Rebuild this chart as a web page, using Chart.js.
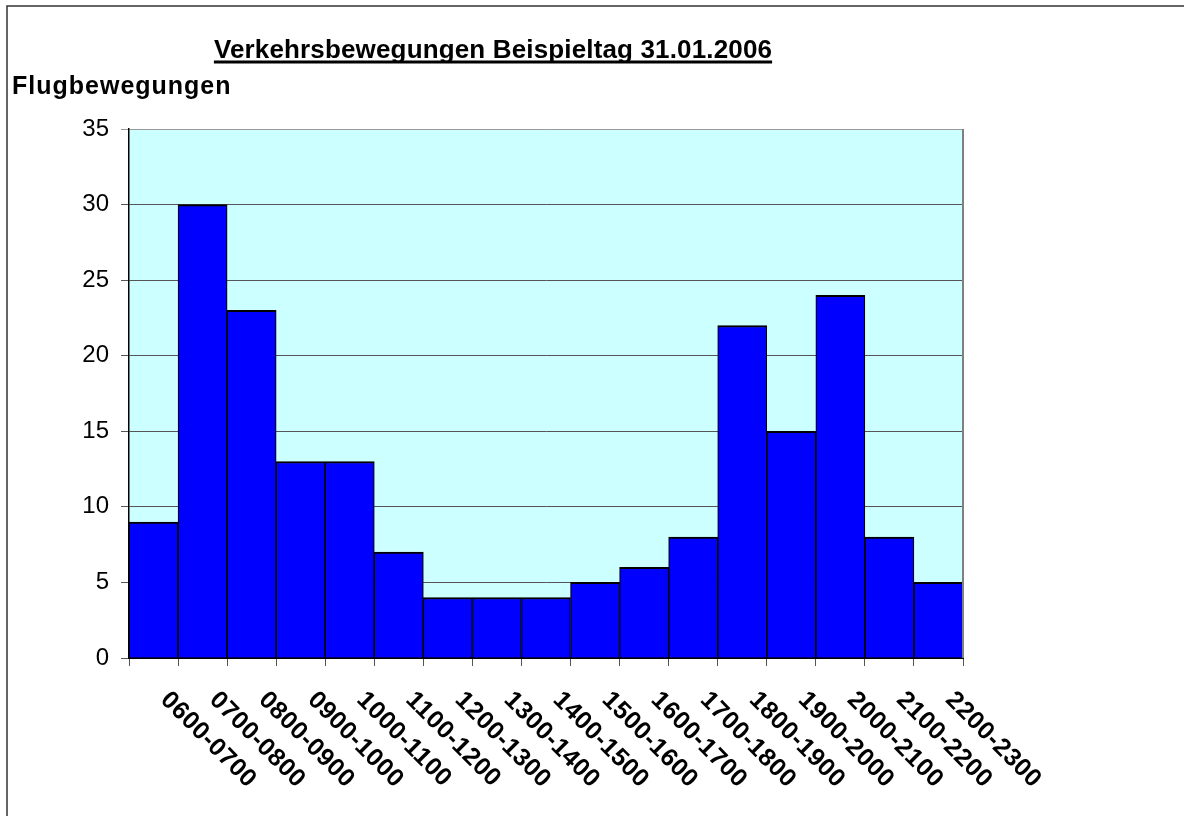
<!DOCTYPE html>
<html lang="de">
  <head>
    <meta charset="UTF-8" />
    <title>Verkehrsbewegungen Beispieltag 31.01.2006</title>
    <script src="https://cdn.jsdelivr.net/npm/chart.js"></script>
    <style>
      html, body { margin: 0; padding: 0; background: #fff; }
      canvas { display: block; }
    </style>
  </head>
  <body>
    <canvas id="chart" width="1184" height="816"></canvas>
    <script>
      const chartTitle = "Verkehrsbewegungen Beispieltag 31.01.2006";
      const axisTitle = "Flugbewegungen";
      const timeSlots = [
        "0600-0700", "0700-0800", "0800-0900", "0900-1000", "1000-1100", "1100-1200",
        "1200-1300", "1300-1400", "1400-1500", "1500-1600", "1600-1700", "1700-1800",
        "1800-1900", "1900-2000", "2000-2100", "2100-2200", "2200-2300"
      ];
      const movements = [9, 30, 23, 13, 13, 7, 4, 4, 4, 5, 6, 8, 22, 15, 24, 8, 5];
      const yMin = 0;
      const yMax = 35;
      const yStep = 5;

      const FONT = "'Liberation Sans', Arial, sans-serif";

      // Hintergrund, Rahmen, Titel und gedrehte Kategorienbeschriftung
      const decor = {
        id: "decor",
        beforeDraw(chart) {
          const { ctx, chartArea: a } = chart;
          ctx.save();
          ctx.fillStyle = "#ffffff";
          ctx.fillRect(0, 0, chart.width, chart.height);
          ctx.fillStyle = "#ccffff";
          ctx.fillRect(a.left, a.top, a.right - a.left, a.bottom - a.top);
          ctx.strokeStyle = "#333333";
          ctx.lineWidth = 1.5;
          ctx.strokeRect(7, 6, chart.width + 20, chart.height + 20);
          ctx.restore();
        },
        afterDraw(chart) {
          const { ctx, chartArea: a } = chart;
          const x = chart.scales.x;
          ctx.save();

          // rechter Rand der Zeichenfläche
          ctx.strokeStyle = "#808080";
          ctx.lineWidth = 2;
          ctx.beginPath();
          ctx.moveTo(a.right, a.top);
          ctx.lineTo(a.right, a.bottom);
          ctx.stroke();

          ctx.fillStyle = "#000";
          ctx.textAlign = "left";
          ctx.textBaseline = "alphabetic";

          // Titel, unterstrichen
          ctx.font = "bold 26px " + FONT;
          ctx.letterSpacing = "0.15px";
          const tw = ctx.measureText(chartTitle).width;
          const tx = 493 - tw / 2;
          ctx.fillText(chartTitle, tx, 58);
          ctx.fillRect(tx, 60.5, tw, 3);

          // Achsentitel
          ctx.font = "bold 25px " + FONT;
          ctx.letterSpacing = "1px";
          ctx.fillText(axisTitle, 12, 94);

          // Kategorien, 45 Grad gedreht
          ctx.font = "bold 25px " + FONT;
          ctx.letterSpacing = "0.5px";
          timeSlots.forEach((label, i) => {
            const px = x.getPixelForValue(i);
            ctx.save();
            ctx.translate(px + 6, a.bottom + 43);
            ctx.rotate(Math.PI / 4);
            ctx.fillText(label, 0, 0);
            ctx.restore();
          });
          ctx.restore();
        }
      };

      new Chart(document.getElementById("chart"), {
        type: "bar",
        data: {
          labels: timeSlots,
          datasets: [
            {
              label: axisTitle,
              data: movements,
              backgroundColor: "#0000ff",
              borderColor: "#000000",
              borderWidth: { top: 2, left: 1.2, right: 1.2, bottom: 0 },
              borderSkipped: false,
              categoryPercentage: 1,
              barPercentage: 1
            }
          ]
        },
        options: {
          responsive: false,
          animation: false,
          layout: { padding: { top: 129, right: 221, bottom: 0, left: 0 } },
          plugins: {
            legend: { display: false },
            title: { display: false },
            tooltip: { enabled: false }
          },
          scales: {
            x: {
              offset: true,
              grid: { offset: true, drawOnChartArea: false, drawTicks: true, tickLength: 8, color: "#555555" },
              border: { display: true, color: "#000000", width: 2 },
              ticks: { display: false },
              afterFit: (s) => { s.height = 158; }
            },
            y: {
              min: yMin,
              max: yMax,
              ticks: { stepSize: yStep, padding: 12, color: "#000", font: { family: FONT, size: 24 } },
              grid: {
                tickLength: 8,
                color: (c) => (c.tick && c.tick.value === yMax ? "#999999" : "#555555")
              },
              border: { display: true, color: "#000000", width: 1.5 },
              afterFit: (s) => { s.width = 129; }
            }
          }
        },
        plugins: [decor]
      });
    </script>
  </body>
</html>
